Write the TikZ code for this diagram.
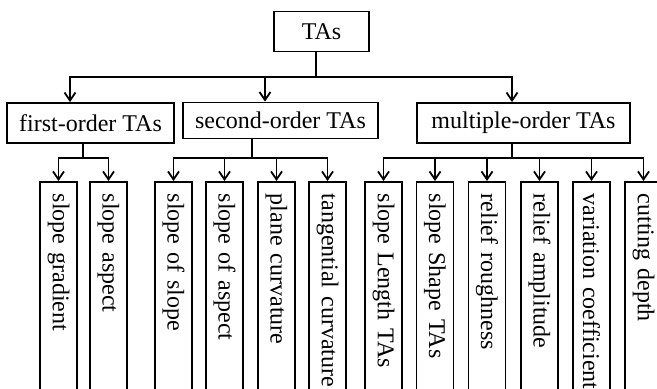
\documentclass[tikz,border=0pt]{standalone}
\usepackage{fontspec}
\setmainfont{Liberation Serif}
\usetikzlibrary{arrows.meta}

\tikzset{
  box/.style={draw,line width=0.9pt,inner sep=0pt,minimum height=20pt,
    font=\fontsize{12}{14}\selectfont},
  leaf/.style={box,rotate=-90,anchor=west,minimum width=115pt,
    minimum height=18.5pt,text width=103pt,align=left,inner xsep=6pt},
  link/.style={line width=0.9pt},
  >={Straight Barb[length=4pt,width=5.5pt]}
}

\begin{document}
\begin{tikzpicture}[x=0.5pt,y=-0.5pt]
    \useasboundingbox (0,0) rectangle (657,389);
    \clip (0,0) rectangle (657,389);
    % upper levels
    \node[box,minimum width=47.5pt] (tas) at (321.5,31.5) {TAs};
    \node[box,minimum width=83.5pt] (first) at (90.5,123) {first-order TAs};
    \node[box,minimum width=97.5pt,minimum height=18pt] (second) at (280.5,120.5) {second-order TAs};
    \node[box,minimum width=106.5pt] (multi) at (523.5,123) {multiple-order TAs};
    % leaves
    \foreach \n/\x/\t in {f1/58.5/slope gradient, f2/108.5/slope aspect,
      s1/173.5/slope of slope, s2/224.5/slope of aspect,
      s3/276.5/plane curvature, s4/327.5/tangential curvature,
      m1/383.5/slope Length TAs, m2/435/slope Shape TAs,
      m3/487/relief roughness, m4/539.5/relief amplitude,
      m5/591.5/variation coefficient, m6/643.5/cutting depth}
      \node[leaf] (\n) at (\x,181) {\t};
    % buses
    \coordinate (top) at (316,77);
    \coordinate (fb) at (83,158);
    \coordinate (sb) at (252,158);
    \coordinate (mb) at (512,158);
    \draw[link] (tas.south -| top) -- (top);
    \draw[link,->] (top) -| ([shift={(-20.5,0)}]first.north);
    \draw[link,->] (top) -| ([shift={(-15.5,0)}]second.north);
    \draw[link,->] (top) -| ([shift={(-11.5,0)}]multi.north);
    \draw[link] (first.south -| fb) -- (fb);
    \draw[link] (second.south -| sb) -- (sb);
    \draw[link] (multi.south -| mb) -- (mb);
    \foreach \n in {f1,f2} \draw[link,->] (fb) -| (\n.west);
    \foreach \n in {s1,s2,s3,s4} \draw[link,->] (sb) -| (\n.west);
    \foreach \n in {m1,m2,m3,m4,m5,m6} \draw[link,->] (mb) -| (\n.west);
\end{tikzpicture}
\end{document}
